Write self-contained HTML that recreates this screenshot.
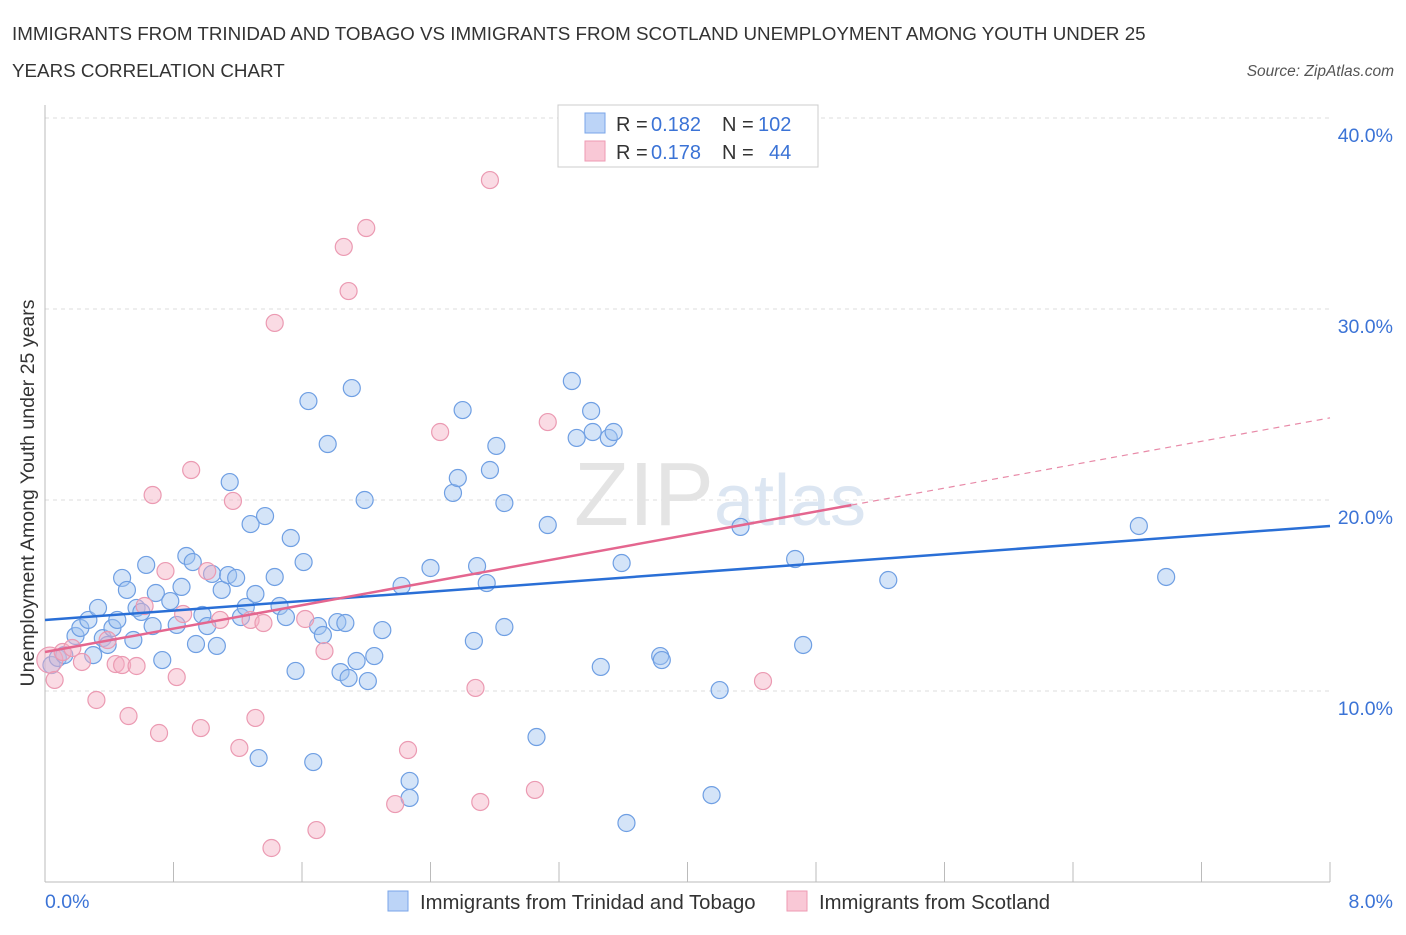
<!DOCTYPE html>
<html><head><meta charset="utf-8"><style>
body{margin:0;background:#fff;font-family:"Liberation Sans",sans-serif;}
svg text{font-family:"Liberation Sans",sans-serif;}
</style></head><body>
<svg id="chart" width="1406" height="930" xmlns="http://www.w3.org/2000/svg">
<text x="12" y="40" font-size="18.8" fill="#333">IMMIGRANTS FROM TRINIDAD AND TOBAGO VS IMMIGRANTS FROM SCOTLAND UNEMPLOYMENT AMONG YOUTH UNDER 25</text>
<text x="12" y="77" font-size="18.8" fill="#333">YEARS CORRELATION CHART</text>
<text x="1394" y="76" font-size="15.5" fill="#555" font-style="italic" text-anchor="end">Source: ZipAtlas.com</text>
<g id="grid"></g>
<text x="720" y="525" font-size="90" fill="#e4e4e4" text-anchor="middle" font-family="Liberation Serif"><tspan>ZIP</tspan><tspan fill="#dce6f2" font-family="Liberation Sans" font-size="72">atlas</tspan></text>
<line x1="45" y1="105" x2="45" y2="882" stroke="#bbb"/>
<line x1="45" y1="882" x2="1330" y2="882" stroke="#bbb"/>
<g id="pts"></g>
<g id="trends"></g>
<text transform="translate(34,493) rotate(-90)" font-size="19.5" fill="#333" text-anchor="middle">Unemployment Among Youth under 25 years</text>
<text x="45" y="908" font-size="19.5" fill="#3b73d6">0.0%</text>
<text x="1393" y="908" font-size="19.5" fill="#3b73d6" text-anchor="end">8.0%</text>
<g>
<rect x="558" y="105" width="260" height="62" fill="#fff" stroke="#ccc"/>
<rect x="585" y="113" width="20" height="20" fill="#bcd4f7" stroke="#7aa5e8"/>
<rect x="585" y="141" width="20" height="20" fill="#f9c8d6" stroke="#ee9ab3"/>
<text x="616" y="131" font-size="20" fill="#333">R =</text>
<text x="651" y="131" font-size="20" fill="#3b73d6">0.182</text>
<text x="722" y="131" font-size="20" fill="#333">N =</text>
<text x="758" y="131" font-size="20" fill="#3b73d6">102</text>
<text x="616" y="159" font-size="20" fill="#333">R =</text>
<text x="651" y="159" font-size="20" fill="#3b73d6">0.178</text>
<text x="722" y="159" font-size="20" fill="#333">N =</text>
<text x="769" y="159" font-size="20" fill="#3b73d6">44</text>
</g>
<g>
<rect x="388" y="891" width="20" height="20" fill="#bcd4f7" stroke="#7aa5e8"/>
<text x="420" y="909" font-size="20.3" fill="#333">Immigrants from Trinidad and Tobago</text>
<rect x="787" y="891" width="20" height="20" fill="#f9c8d6" stroke="#ee9ab3"/>
<text x="819" y="909" font-size="20.3" fill="#333">Immigrants from Scotland</text>
</g>
</svg>
<script>
const yTicks=[10,20,30,40];
const yTickLabels=["10.0%","20.0%","30.0%","40.0%"];
const xTicks=[0,0.8,1.6,2.4,3.2,4.0,4.8,5.6,6.4,7.2,8.0];
const blueX=[0.04,0.08,0.12,0.19,0.22,0.27,0.30,0.33,0.36,0.39,0.42,0.45,0.48,0.51,0.55,0.57,0.60,0.63,0.67,0.69,0.73,0.78,0.82,0.85,0.88,0.92,0.94,0.98,1.01,1.04,1.07,1.10,1.14,1.15,1.19,1.22,1.25,1.28,1.31,1.33,1.37,1.43,1.46,1.50,1.53,1.56,1.61,1.64,1.67,1.70,1.73,1.76,1.82,1.84,1.87,1.89,1.91,1.94,1.99,2.01,2.05,2.10,2.22,2.27,2.27,2.40,2.54,2.57,2.60,2.67,2.69,2.75,2.77,2.81,2.86,2.86,3.06,3.13,3.28,3.31,3.40,3.41,3.51,3.54,3.46,3.59,3.62,3.83,3.84,4.15,4.20,4.33,4.67,4.72,5.25,6.81,6.98];
const blueY=[11.36,11.73,11.88,12.88,13.30,13.72,11.88,14.35,12.77,12.41,13.30,13.72,15.92,15.29,12.67,14.35,14.14,16.60,13.40,15.13,11.62,14.71,13.46,15.45,17.07,16.75,12.46,13.98,13.40,16.13,12.36,15.29,16.07,20.94,15.92,13.87,14.40,18.74,15.08,6.49,19.16,15.97,14.45,13.87,18.01,11.05,16.75,25.18,6.28,13.40,12.93,22.93,13.61,10.99,13.56,10.68,25.86,11.57,20.00,10.52,11.83,13.19,15.50,5.29,4.40,16.44,20.37,21.15,24.71,12.62,16.54,15.65,21.57,22.83,19.84,13.35,7.59,18.69,26.23,23.25,24.66,23.56,23.25,23.56,11.26,16.70,3.09,11.83,11.62,4.55,10.05,18.59,16.91,12.41,15.81,18.64,15.97];
const pinkX=[0.03,0.06,0.11,0.17,0.23,0.32,0.39,0.44,0.48,0.52,0.57,0.62,0.67,0.71,0.75,0.82,0.86,0.91,0.97,1.01,1.09,1.17,1.21,1.28,1.31,1.36,1.43,1.41,1.62,1.69,1.74,1.86,1.89,2.00,2.18,2.26,2.46,2.68,2.71,2.77,3.05,3.13,4.47];
const pinkY=[11.62,10.58,12.04,12.25,11.52,9.53,12.67,11.41,11.36,8.69,11.31,14.45,20.26,7.80,16.28,10.73,14.03,21.57,8.06,16.28,13.72,19.95,7.02,13.72,8.59,13.56,29.27,1.78,13.77,2.72,12.09,33.25,30.94,34.24,4.08,6.91,23.56,10.16,4.19,36.75,4.82,24.08,10.52];
const blueTrend=[13.72,18.64];
const pinkTrend=[12.04,24.3];
const pinkSolidEnd=5.02;
const sx=v=>45+v/8*1285;
const sy=v=>882-v*19.1;
const NS="http://www.w3.org/2000/svg";
function mk(tag,attrs,parent){const e=document.createElementNS(NS,tag);for(const k in attrs)e.setAttribute(k,attrs[k]);parent.appendChild(e);return e;}
const grid=document.getElementById('grid');
yTicks.forEach((t,i)=>{
 const l=mk('line',{x1:45,x2:1330,y1:sy(t),y2:sy(t),stroke:'#ddd','stroke-dasharray':'4,4'},grid);
 
 
 const tx=mk('text',{x:1393,y:sy(t)+24,'font-size':19.5,fill:'#3b73d6','text-anchor':'end'},grid);
 tx.textContent=yTickLabels[i];
 
 
});
xTicks.forEach(t=>{
 const l=mk('line',{x1:sx(t),x2:sx(t),y1:862,y2:882,stroke:'#bbb'},grid);
 
 
});
const pts=document.getElementById('pts');
blueX.forEach((x,i)=>{
 const c=mk('circle',{cx:sx(x),cy:sy(blueY[i]),r:8.5,fill:'rgba(160,195,240,0.45)',stroke:'#6f9fe3','stroke-width':1.2},pts);
 
 
});
pinkX.forEach((x,i)=>{
 const c=mk('circle',{cx:sx(x),cy:sy(pinkY[i]),r:i==0?13:8.5,fill:'rgba(245,175,195,0.45)',stroke:'#eb9ab2','stroke-width':1.2},pts);
 
 
});
const tr=document.getElementById('trends');
const bl=mk('line',{x1:sx(0),y1:sy(blueTrend[0]),x2:sx(8),y2:sy(blueTrend[1]),stroke:'#2a6fd6','stroke-width':2.5},tr);


const pv=x=>pinkTrend[0]+(pinkTrend[1]-pinkTrend[0])*x/8;
const pl=mk('line',{x1:sx(0),y1:sy(pv(0)),x2:sx(pinkSolidEnd),y2:sy(pv(pinkSolidEnd)),stroke:'#e4668f','stroke-width':2.5},tr);


const pd=mk('line',{x1:sx(pinkSolidEnd),y1:sy(pv(pinkSolidEnd)),x2:sx(8),y2:sy(pv(8)),stroke:'#e88aa8','stroke-width':1.2,'stroke-dasharray':'6,5'},tr);


</script>
</body></html>
